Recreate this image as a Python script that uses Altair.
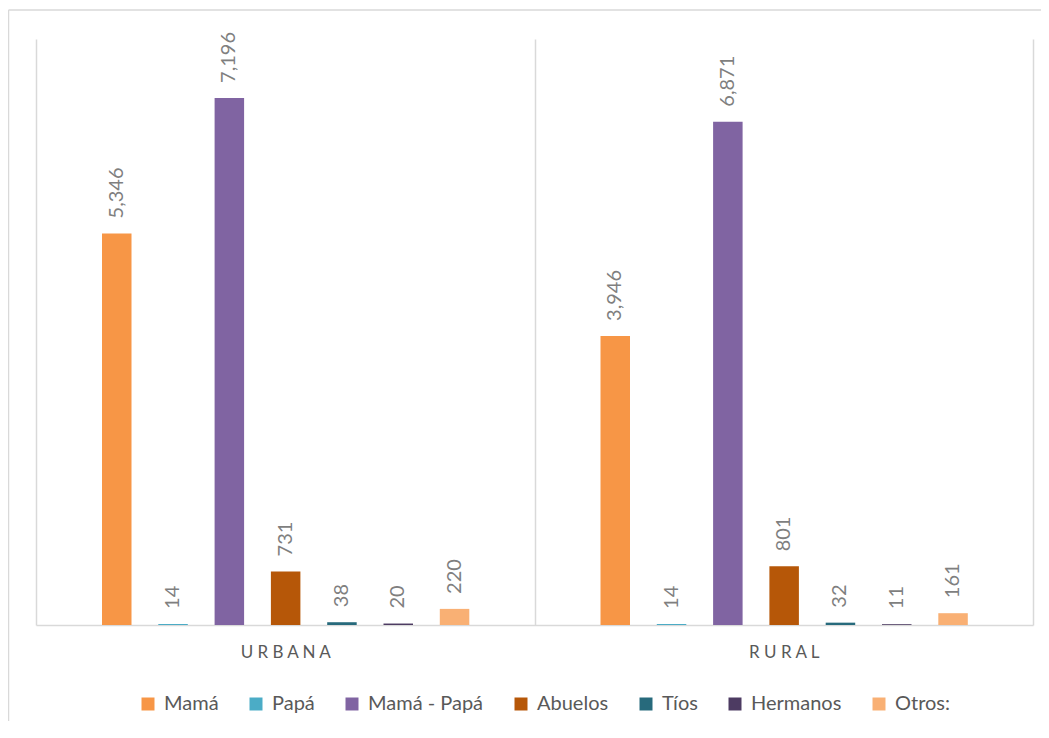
import altair as alt
import pandas as pd

areas = ["URBANA", "RURAL"]
series = ["Mamá", "Papá", "Mamá - Papá", "Abuelos", "Tíos", "Hermanos", "Otros:"]
urbana = [5346, 14, 7196, 731, 38, 20, 220]
rural = [3946, 14, 6871, 801, 32, 11, 161]
colors = ["#F79646", "#4BACC6", "#8064A2", "#B65708", "#276A7C", "#4D3B62", "#F9B074"]

rows = []
for area, vals in zip(areas, [urbana, rural]):
    for s, v in zip(series, vals):
        rows.append({"area": area, "serie": s, "valor": v})
df = pd.DataFrame(rows)

FONT = "Lato"
GRID = "#d9d9d9"

base = alt.Chart(df).encode(
    x=alt.X(
        "area:N",
        sort=areas,
        scale=alt.Scale(paddingInner=0, paddingOuter=0),
        axis=alt.Axis(
            title=None,
            tickBand="extent",
            grid=True,
            gridColor=GRID,
            gridWidth=1.5,
            domainColor=GRID,
            domainWidth=1.5,
            ticks=False,
            labelAngle=0,
            labelPadding=19,
            labelFont=FONT,
            labelFontSize=17,
            labelColor="#595959",
            labelExpr="join(split(datum.label, ''), ' ')",
        ),
    ),
    xOffset=alt.XOffset(
        "serie:N", sort=series,
        scale=alt.Scale(paddingInner=0.476, paddingOuter=0, range=[66, 433.3]),
    ),
    y=alt.Y("valor:Q", scale=alt.Scale(domain=[0, 8000], nice=False), axis=None),
)

bars = base.mark_bar().encode(
    color=alt.Color(
        "serie:N",
        sort=series,
        scale=alt.Scale(domain=series, range=colors),
        legend=alt.Legend(
            title=None,
            orient="none",
            legendX=102,
            legendY=655,
            direction="horizontal",
            symbolType="square",
            symbolSize=169,
            symbolStrokeWidth=0,
            labelFont=FONT,
            labelFontSize=20,
            labelColor="#595959",
            labelOffset=6,
            columnPadding=27,
        ),
    )
)

labels = base.mark_text(
    angle=270, align="left", baseline="middle", dx=15,
    font=FONT, fontSize=20, color="#7f7f7f",
).encode(text=alt.Text("valor:Q", format=","))

one = pd.DataFrame({"a": [0]})
frame_top = alt.Chart(one).mark_rule(color=GRID, strokeWidth=1.5).encode(
    x=alt.value(-27.5), x2=alt.value(1010), y=alt.value(-29)
)
frame_left = alt.Chart(one).mark_rule(color=GRID, strokeWidth=1.5).encode(
    x=alt.value(-27.5), y=alt.value(-29), y2=alt.value(700)
)

chart = alt.layer(bars, labels, frame_top, frame_left).properties(
    width=997,
    height=586,
    autosize=alt.AutoSizeParams(type="none"),
    padding={"left": 28, "top": 31, "right": 8, "bottom": 96},
    background="white",
).configure_view(stroke=None)

chart.save("out.html", embed_options={"renderer": "svg", "actions": False})
